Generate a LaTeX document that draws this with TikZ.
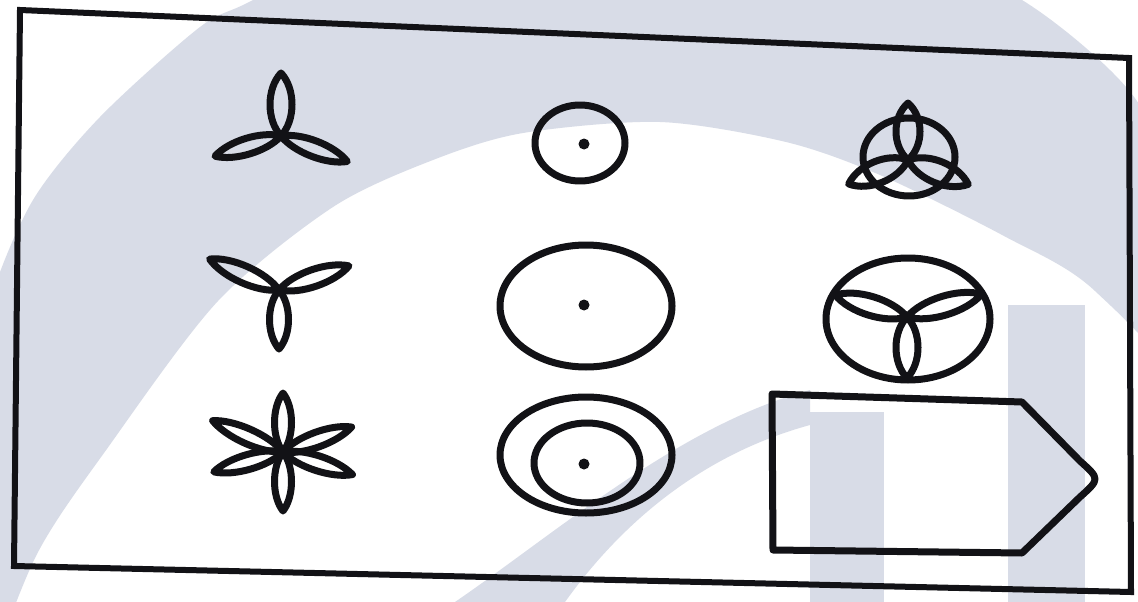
\documentclass[tikz,border=0pt]{standalone}
\definecolor{wm}{RGB}{216,220,231}
\definecolor{ink}{RGB}{18,18,22}
\tikzset{
  fig/.style={draw=ink,line width=7pt,line join=round},
  framestyle/.style={draw=ink,line width=6pt,line join=miter},
  dotstyle/.style={fill=ink}
}
\newcommand\petalshape[5]{%
  \draw[fig,shift={(#1,#2)},rotate=#3] (0,0)
    .. controls ({0.25*#4},{#5/1.5}) and ({0.75*#4},{#5/1.5}) .. (#4,0)
    .. controls ({0.75*#4},{-#5/1.5}) and ({0.25*#4},{-#5/1.5}) .. cycle;}
\begin{document}
\begin{tikzpicture}[x=1pt,y=-1pt]
\useasboundingbox (0,0) rectangle (1138,602);
\fill[white] (0,0) rectangle (1138,602);
% watermark
\begin{scope}
\clip (0,0) rectangle (1138,602);
\fill[wm] plot[smooth] coordinates {(-40,420) (-10,300) (33,200) (100,117) (200,27) (253,0) (400,-80) (640,-110) (880,-70) (1022,0) (1113,73) (1160,140) (1250,330) (1300,700)}
  -- plot[smooth] coordinates {(1300,720) (1200,420) (1095,291) (1004,236) (880,175) (786,142) (660,122) (523,133) (433,160) (333,207) (218,301) (109,446) (36,556) (-20,700)} -- cycle;
\fill[wm] (1008,305) rectangle (1085,602);
\fill[wm] (810,412) rectangle (884,602);
\fill[wm] (455,602) .. controls (560,530) and (680,425) .. (810,390) -- (810,425) .. controls (700,455) and (620,525) .. (565,602) -- cycle;
\end{scope}
% frame
\coordinate (f1) at (20,10);
\coordinate (f2) at (1129,58);
\coordinate (f3) at (1131,592);
\coordinate (f4) at (14,566);
\draw[framestyle] (f1) -- (f2) -- (f3) -- (f4) -- cycle;
% A1 propeller
\petalshape{281}{136}{90}{63}{22}
\petalshape{281}{136}{197}{69}{16}
\petalshape{281}{136}{339}{71}{16}
% B1
\draw[fig] (580,143) ellipse [x radius=45pt, y radius=38pt];
\fill[dotstyle] (584,144) circle [radius=5.5pt];
% C1 triquetra
\draw[fig] (909,157) ellipse [x radius=46pt, y radius=39pt];
\petalshape{908}{160}{90}{57}{24}
\petalshape{908}{160}{202}{64}{22}
\petalshape{908}{160}{338}{65}{22}
% A2
\petalshape{279}{290}{156}{76}{17}
\petalshape{279}{290}{19}{74}{17}
\petalshape{279}{290}{270}{59}{19}
% B2
\draw[fig] (586,306) ellipse [x radius=86pt, y radius=61pt];
\fill[dotstyle] (584,305) circle [radius=5.5pt];
% C2
\draw[fig] (908,319) ellipse [x radius=82pt, y radius=61pt];
\petalshape{907}{317}{163}{75}{19}
\petalshape{907}{317}{17}{78}{19}
\petalshape{907}{317}{270}{61}{22}
% A3
\petalshape{283}{452}{90}{59}{17}
\petalshape{283}{452}{270}{59}{17}
\petalshape{283}{452}{156}{77}{15}
\petalshape{283}{452}{20}{73}{15}
\petalshape{283}{452}{196}{72}{15}
\petalshape{283}{452}{342}{73}{15}
% B3
\draw[fig] (586,455) ellipse [x radius=86pt, y radius=58pt];
\draw[fig] (587,463) ellipse [x radius=53pt, y radius=40pt];
\fill[dotstyle] (584,464) circle [radius=5.5pt];
% C3 pentagon
\coordinate (p1) at (772,394);
\coordinate (p2) at (1022,402);
\coordinate (p3) at (1080,461);
\coordinate (p4) at (1100,479);
\coordinate (p5) at (1080,497);
\coordinate (p6) at (1022,553);
\coordinate (p7) at (773,550);
\draw[fig] (p1) -- (p2) -- (p3) .. controls (p4) .. (p5) -- (p6) -- (p7) -- cycle;
\end{tikzpicture}
\end{document}
